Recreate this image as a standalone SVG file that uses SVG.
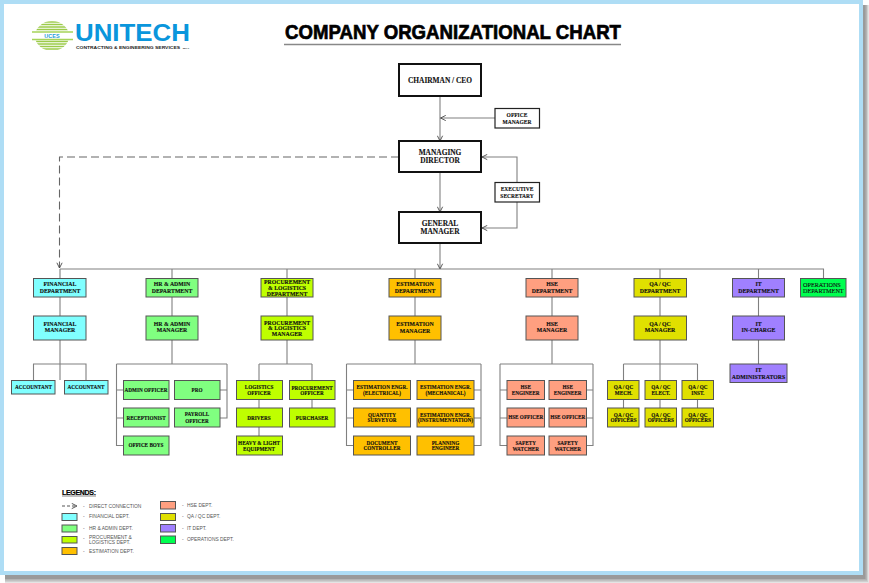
<svg xmlns="http://www.w3.org/2000/svg" width="869" height="583" viewBox="0 0 869 583">
<style>
text{font-family:"Liberation Serif","Times New Roman",serif;font-weight:bold;fill:#111;stroke:#111;stroke-width:.12;text-anchor:middle;font-size:5.2px}
g[id$="-d"] text,g[id$="-m"] text,#n-it-a text{font-size:5.8px}
.n{stroke:#555;stroke-width:1}
.top{fill:#fff;stroke:#111;stroke-width:2}
.sm{fill:#fff;stroke:#222;stroke-width:1.2}
.fin{fill:#80FFFF}.hr{fill:#80FF80}.pro{fill:#BFFF00}.est{fill:#FFC000}.hse{fill:#FF9F80}.qa{fill:#E0E000}.it{fill:#A080FF}.op{fill:#00FF50}
text.big{font-size:7.4px}
.c path,.c line{fill:none;stroke:#808080;stroke-width:1.1}
text.lg{font-family:"Liberation Sans",Arial,sans-serif;font-weight:normal;font-size:4.9px;text-anchor:start;fill:#555;stroke:none}
text.sa{font-family:"Liberation Sans",Arial,sans-serif;stroke:none}
</style>
<defs>
<marker id="a" viewBox="0 0 8 8" refX="7" refY="4" markerWidth="7" markerHeight="7" markerUnits="userSpaceOnUse" orient="auto"><path d="M1 1L7 4L1 7" fill="none" stroke="#444" stroke-width="1"/></marker>
<clipPath id="lc"><ellipse cx="52" cy="36" rx="17" ry="15"/></clipPath>
</defs>
<rect width="869" height="583" fill="#fff"/>
<rect x="5" y="5" width="864" height="578" fill="#e4e4e4"/>
<rect x="5" y="5" width="863" height="577" fill="#cfcfcf"/>
<rect x="5" y="5" width="862" height="575.500" fill="#b4b4b4"/>
<rect x="5" y="5" width="860.500" height="574" fill="#9a9a9a"/>
<rect x="0" y="0" width="863" height="575" fill="#AEDDF5"/>
<rect x="4" y="4" width="855" height="567" fill="#fff"/>

<g id="logo">
<g clip-path="url(#lc)" stroke="#9CCB4A" fill="none">
<path d="M31 22H73M31 24.500H73M31 27H73M31 29.500H73M31 41.500H73M31 44H73M31 46.500H73M31 49H73" stroke-width="1.500"/>
</g>
<path d="M32 32H73M32 39.500H73" stroke="#A6D35A" stroke-width="1.300"/>
<text class="sa" x="52" y="38" style="font-size:5.500px;fill:#1E9BD7">UCES</text>
<text class="sa" x="132.500" y="40.500" textLength="115" lengthAdjust="spacingAndGlyphs" style="font-size:23px;fill:#0A96DC">UNITECH</text>
<text class="sa" x="128" y="48.800" textLength="104" lengthAdjust="spacingAndGlyphs" style="font-size:4.400px;fill:#222">CONTRACTING &amp; ENGINEERING SERVICES</text>
<text class="sa" x="186" y="48.800" style="font-size:2.500px;fill:#222">W.L.L</text>
</g>

<g id="title">
<text x="453" y="39" textLength="336" lengthAdjust="spacingAndGlyphs" style="font-family:'Liberation Sans',sans-serif;font-size:20.500px;fill:#000;stroke:#000;stroke-width:.7">COMPANY ORGANIZATIONAL CHART</text>
<line x1="284" y1="44.500" x2="621" y2="44.500" stroke="#888" stroke-width="1.300"/>
</g>

<g id="connectors" class="c">
<line x1="440" y1="96" x2="440" y2="141" marker-end="url(#a)"/>
<line x1="495" y1="118" x2="440.500" y2="118" marker-end="url(#a)"/>
<line x1="440" y1="172" x2="440" y2="212" marker-end="url(#a)"/>
<line x1="440" y1="243" x2="440" y2="269" marker-end="url(#a)"/>
<path d="M517 182V157H482" marker-end="url(#a)"/>
<path d="M517 202V228H482" marker-end="url(#a)"/>
<path d="M399 157H59.500V268" stroke-dasharray="8 4" style="stroke:#666" marker-end="url(#a)"/>
<path d="M60 269H823.500V279"/>
<path d="M60 269V380M33.500 381V364H86V381"/>
<path d="M172 269V364M116.500 364H227M116.500 364V445.500H124M116.500 390H124M116.500 418H124M227 364V418H220M227 390H220"/>
<path d="M287 269V364M259 364H312M259 364V436M312 364V408"/>
<path d="M415 269V364M346.500 364H481M346.500 364V445.500H354M346.500 390H354M346.500 418H354M481 364V445.500H474M481 390H474M481 418H474"/>
<path d="M552 269V364M500 364H593M500 364V445.500H507M500 390H507M500 418H507M593 364V445.500H586M593 390H586M593 418H586"/>
<path d="M660 269V408M623.500 364H697.500M623.500 364V408M697.500 364V408"/>
<path d="M758.500 269V364"/>
</g>

<g id="n-ceo"><rect class="top" x="399" y="64" width="82" height="32"/><text class="big" x="440" y="82.500">CHAIRMAN / CEO</text></g>
<g id="n-office"><rect class="sm" x="495" y="108.500" width="44.500" height="19.500"/><text style="font-size:5.500px" x="517" y="117">OFFICE</text><text style="font-size:5.500px" x="517" y="123.500">MANAGER</text></g>
<g id="n-md"><rect class="top" x="399" y="141" width="82" height="31"/><text class="big" x="440" y="154.500">MANAGING</text><text class="big" x="440" y="162.800">DIRECTOR</text></g>
<g id="n-exec"><rect class="sm" x="495" y="182.500" width="44.500" height="19.500"/><text style="font-size:5.500px" x="517" y="191">EXECUTIVE</text><text style="font-size:5.500px" x="517" y="197.500">SECRETARY</text></g>
<g id="n-gm"><rect class="top" x="399" y="212" width="82" height="31"/><text class="big" x="440" y="225.800">GENERAL</text><text class="big" x="440" y="234">MANAGER</text></g>

<g id="n-fin-d"><rect class="n fin" x="33.500" y="278.500" width="52.500" height="18.500"/><text x="60" y="286.300">FINANCIAL</text><text x="60" y="292.500">DEPARTMENT</text></g>
<g id="n-fin-m"><rect class="n fin" x="33.500" y="316" width="52.500" height="24"/><text x="60" y="326">FINANCIAL</text><text x="60" y="332.300">MANAGER</text></g>
<g id="n-acc1"><rect class="n fin" x="11.500" y="380.500" width="43.500" height="13.500"/><text x="33.500" y="389">ACCOUNTANT</text></g>
<g id="n-acc2"><rect class="n fin" x="64.500" y="380.500" width="43.500" height="13.500"/><text x="86" y="389">ACCOUNTANT</text></g>

<g id="n-hr-d"><rect class="n hr" x="146" y="278.500" width="52" height="18.500"/><text x="172" y="286.300">HR &amp; ADMIN</text><text x="172" y="292.500">DEPARTMENT</text></g>
<g id="n-hr-m"><rect class="n hr" x="146" y="316" width="52" height="24"/><text x="172" y="326">HR &amp; ADMIN</text><text x="172" y="332.300">MANAGER</text></g>
<g id="n-hr1"><rect class="n hr" x="123.500" y="380.500" width="45.500" height="19"/><text x="146" y="391.500">ADMIN OFFICER</text></g>
<g id="n-hr2"><rect class="n hr" x="174.500" y="380.500" width="45.500" height="19"/><text x="197" y="391.500">PRO</text></g>
<g id="n-hr3"><rect class="n hr" x="123.500" y="408" width="45.500" height="19"/><text x="146" y="419.500">RECEPTIONIST</text></g>
<g id="n-hr4"><rect class="n hr" x="174.500" y="408" width="45.500" height="19"/><text x="197" y="416.300">PAYROLL</text><text x="197" y="422.700">OFFICER</text></g>
<g id="n-hr5"><rect class="n hr" x="123.500" y="436" width="45.500" height="19"/><text x="146" y="447.300">OFFICE BOYS</text></g>

<g id="n-pro-d"><rect class="n pro" x="261" y="278.500" width="52" height="18.500"/><text x="287" y="283.800">PROCUREMENT</text><text x="287" y="289.800">&amp; LOGISTICS</text><text x="287" y="296">DEPARTMENT</text></g>
<g id="n-pro-m"><rect class="n pro" x="261" y="316" width="52" height="24"/><text x="287" y="324.700">PROCUREMENT</text><text x="287" y="329.800">&amp; LOGISTICS</text><text x="287" y="336">MANAGER</text></g>
<g id="n-pro1"><rect class="n pro" x="236.500" y="380.500" width="46" height="19"/><text x="259" y="389.200">LOGISTICS</text><text x="259" y="394.500">OFFICER</text></g>
<g id="n-pro2"><rect class="n pro" x="289.500" y="380.500" width="45.500" height="19"/><text x="312" y="389.800">PROCUREMENT</text><text x="312" y="395.200">OFFICER</text></g>
<g id="n-pro3"><rect class="n pro" x="236.500" y="408" width="46" height="19"/><text x="259" y="419.500">DRIVERS</text></g>
<g id="n-pro4"><rect class="n pro" x="289.500" y="408" width="45.500" height="19"/><text x="312" y="419.500">PURCHASER</text></g>
<g id="n-pro5"><rect class="n pro" x="236.500" y="436" width="46" height="19"/><text x="259" y="444.500">HEAVY &amp; LIGHT</text><text x="259" y="450.500">EQUIPMENT</text></g>

<g id="n-est-d"><rect class="n est" x="389" y="278.500" width="52" height="18.500"/><text x="415" y="286.300">ESTIMATION</text><text x="415" y="292.500">DEPARTMENT</text></g>
<g id="n-est-m"><rect class="n est" x="389" y="316" width="52" height="24"/><text x="415" y="326">ESTIMATION</text><text x="415" y="332.800">MANAGER</text></g>
<g id="n-est1"><rect class="n est" x="353.500" y="380.500" width="57" height="19"/><text x="382" y="389.200">ESTIMATION ENGR.</text><text x="382" y="394.500">(ELECTRICAL)</text></g>
<g id="n-est2"><rect class="n est" x="417" y="380.500" width="57" height="19"/><text x="445.500" y="389.200">ESTIMATION ENGR.</text><text x="445.500" y="394.500">(MECHANICAL)</text></g>
<g id="n-est3"><rect class="n est" x="353.500" y="408" width="57" height="19"/><text x="382" y="416.800">QUANTITY</text><text x="382" y="422.300">SURVEYOR</text></g>
<g id="n-est4"><rect class="n est" x="417" y="408" width="57" height="19"/><text x="445.500" y="416.800">ESTIMATION ENGR.</text><text x="445.500" y="422.300">(INSTRUMENTATION)</text></g>
<g id="n-est5"><rect class="n est" x="353.500" y="436" width="57" height="19"/><text x="382" y="444.500">DOCUMENT</text><text x="382" y="450">CONTROLLER</text></g>
<g id="n-est6"><rect class="n est" x="417" y="436" width="57" height="19"/><text x="445.500" y="444.500">PLANNING</text><text x="445.500" y="450">ENGINEER</text></g>

<g id="n-hse-d"><rect class="n hse" x="526" y="278.500" width="52" height="18.500"/><text x="552" y="286.300">HSE</text><text x="552" y="292.500">DEPARTMENT</text></g>
<g id="n-hse-m"><rect class="n hse" x="526" y="316" width="52" height="24"/><text x="552" y="326">HSE</text><text x="552" y="332.300">MANAGER</text></g>
<g id="n-hse1"><rect class="n hse" x="507" y="380.500" width="37.500" height="19"/><text x="525.700" y="389.200">HSE</text><text x="525.700" y="394.500">ENGINEER</text></g>
<g id="n-hse2"><rect class="n hse" x="549" y="380.500" width="37.500" height="19"/><text x="567.700" y="389.200">HSE</text><text x="567.700" y="394.500">ENGINEER</text></g>
<g id="n-hse3"><rect class="n hse" x="507" y="408" width="37.500" height="19"/><text x="525.700" y="418.800">HSE OFFICER</text></g>
<g id="n-hse4"><rect class="n hse" x="549" y="408" width="37.500" height="19"/><text x="567.700" y="418.800">HSE OFFICER</text></g>
<g id="n-hse5"><rect class="n hse" x="507" y="436" width="37.500" height="19"/><text x="525.700" y="444.500">SAFETY</text><text x="525.700" y="450.500">WATCHER</text></g>
<g id="n-hse6"><rect class="n hse" x="549" y="436" width="37.500" height="19"/><text x="567.700" y="444.500">SAFETY</text><text x="567.700" y="450.500">WATCHER</text></g>

<g id="n-qa-d"><rect class="n qa" x="634" y="278.500" width="52.500" height="18.500"/><text x="660" y="286.300">QA / QC</text><text x="660" y="292.500">DEPARTMENT</text></g>
<g id="n-qa-m"><rect class="n qa" x="634" y="316" width="52.500" height="24"/><text x="660" y="326">QA / QC</text><text x="660" y="332.300">MANAGER</text></g>
<g id="n-qa1"><rect class="n qa" x="607.500" y="380.500" width="31.500" height="19"/><text x="623.500" y="389.200">QA / QC</text><text x="623.500" y="394.500">MECH.</text></g>
<g id="n-qa2"><rect class="n qa" x="645" y="380.500" width="31.500" height="19"/><text x="660.800" y="389.200">QA / QC</text><text x="660.800" y="394.500">ELECT.</text></g>
<g id="n-qa3"><rect class="n qa" x="682" y="380.500" width="31.500" height="19"/><text x="697.800" y="389.200">QA / QC</text><text x="697.800" y="394.500">INST.</text></g>
<g id="n-qa4"><rect class="n qa" x="607.500" y="408" width="31.500" height="19"/><text x="623.500" y="416.800">QA / QC</text><text x="623.500" y="422.300">OFFICERS</text></g>
<g id="n-qa5"><rect class="n qa" x="645" y="408" width="31.500" height="19"/><text x="660.800" y="416.800">QA / QC</text><text x="660.800" y="422.300">OFFICERS</text></g>
<g id="n-qa6"><rect class="n qa" x="682" y="408" width="31.500" height="19"/><text x="697.800" y="416.800">QA / QC</text><text x="697.800" y="422.300">OFFICERS</text></g>

<g id="n-it-d"><rect class="n it" x="732.500" y="278.500" width="52" height="18.500"/><text x="758.500" y="286.300">IT</text><text x="758.500" y="292.500">DEPARTMENT</text></g>
<g id="n-it-m"><rect class="n it" x="732.500" y="316" width="52" height="24"/><text x="758.500" y="325.500">IT</text><text x="758.500" y="332.300">IN-CHARGE</text></g>
<g id="n-it-a"><rect class="n it" x="730" y="364" width="57" height="18.500"/><text x="758.500" y="371.800">IT</text><text x="758.500" y="379">ADMINISTRATORS</text></g>

<g id="n-op"><rect class="n op" x="800.500" y="278.500" width="45.500" height="18.500"/><text x="803" y="286.500" style="text-anchor:start;font-weight:normal;font-size:6.200px">OPERATIONS</text><text x="803" y="292.500" style="text-anchor:start;font-weight:normal;font-size:6.200px">DEPARTMENT</text></g>

<g id="legend">
<text class="sa" x="62" y="494.500" style="font-size:7px;text-anchor:start;fill:#000;stroke:#000;stroke-width:.2" textLength="34">LEGENDS:</text>
<line x1="62" y1="496" x2="96" y2="496" stroke="#333" stroke-width=".6"/>
<line x1="62" y1="506" x2="77" y2="506" stroke="#555" stroke-dasharray="3 2" marker-end="url(#a)"/>
<rect class="n fin" x="62" y="513.500" width="15" height="7"/>
<rect class="n hr" x="62" y="525" width="15" height="7"/>
<rect class="n pro" x="62" y="536.500" width="15" height="6.500"/>
<rect class="n est" x="62" y="547.500" width="15" height="7"/>
<rect class="n hse" x="160.500" y="501.500" width="15" height="7.500"/>
<rect class="n qa" x="160.500" y="513.500" width="15" height="7"/>
<rect class="n it" x="160.500" y="524.500" width="15" height="7.500"/>
<rect class="n op" x="160.500" y="536" width="15" height="7.500"/>
<text class="lg" x="83" y="507.500">-</text><text class="lg" x="89" y="507.500">DIRECT CONNECTION</text>
<text class="lg" x="83" y="517.500">-</text><text class="lg" x="89" y="517.500">FINANCIAL DEPT.</text>
<text class="lg" x="83" y="529.500">-</text><text class="lg" x="89" y="529.500">HR &amp; ADMIN DEPT.</text>
<text class="lg" x="83" y="540">-</text><text class="lg" x="89" y="538.700">PROCUREMENT &amp;</text><text class="lg" x="89" y="543.700">LOGISTICS DEPT.</text>
<text class="lg" x="83" y="552.500">-</text><text class="lg" x="89" y="552.500">ESTIMATION DEPT.</text>
<text class="lg" x="182" y="506.500">-</text><text class="lg" x="187" y="506.500">HSE DEPT.</text>
<text class="lg" x="182" y="518">-</text><text class="lg" x="187" y="518">QA / QC DEPT.</text>
<text class="lg" x="182" y="529.500">-</text><text class="lg" x="187" y="529.500">IT DEPT.</text>
<text class="lg" x="182" y="541">-</text><text class="lg" x="187" y="541">OPERATIONS DEPT.</text>
</g>
</svg>
